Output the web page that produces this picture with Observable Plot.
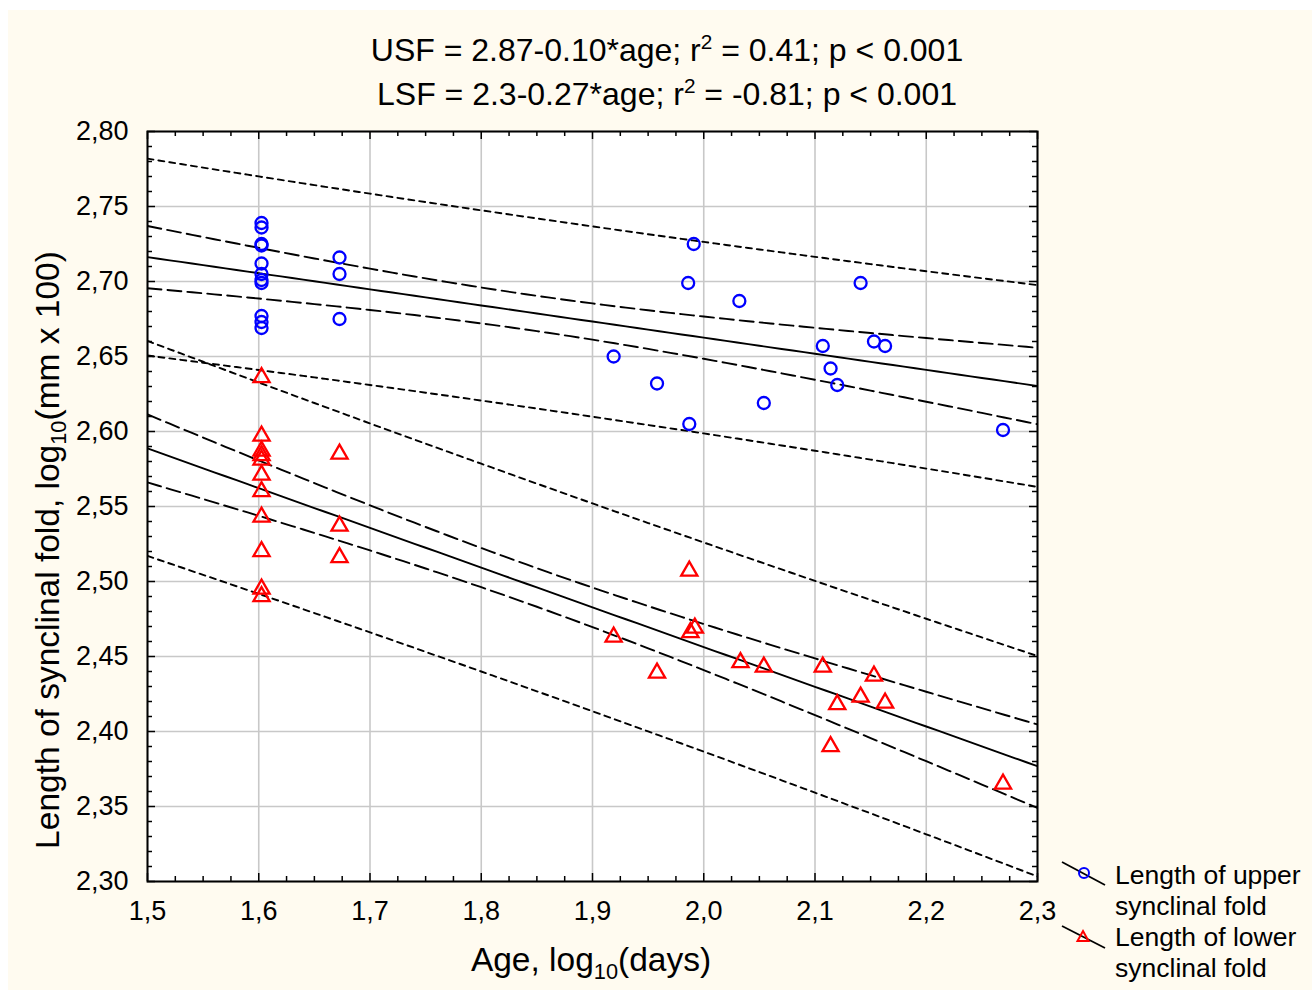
<!DOCTYPE html>
<html><head><meta charset="utf-8">
<script src="https://cdn.jsdelivr.net/npm/d3@7"></script>
<script src="https://cdn.jsdelivr.net/npm/@observablehq/plot@0.6"></script>
<style>
html,body{margin:0;padding:0;background:#fff;overflow:hidden}
#wrap{position:relative;width:1312px;height:990px;background:#fff;font-family:"Liberation Sans",Arial,sans-serif;color:#000}
#cream{position:absolute;left:8px;top:10px;right:0;bottom:0;background:#fffbf0}
#chart{position:absolute;left:0;top:0}
.t{position:absolute;white-space:nowrap}
.title{left:667px;transform:translateX(-50%);font-size:32px;line-height:32px}
sup,sub{font-size:65%;line-height:0}
.leg{left:1115px;font-size:26.5px;line-height:31px}
</style></head>
<body>
<div id="wrap">
  <div id="cream"></div>
  <div id="chart"></div>
  <div class="t title" style="top:34px">USF = 2.87-0.10*age; r<sup>2</sup> = 0.41; p &lt; 0.001</div>
  <div class="t title" style="top:78px">LSF = 2.3-0.27*age; r<sup>2</sup> = -0.81; p &lt; 0.001</div>
  <div class="t" style="left:591px;top:943px;transform:translateX(-50%);font-size:33.5px;line-height:33px">Age, log<sub>10</sub>(days)</div>
  <div class="t" style="left:47px;top:550px;transform:translate(-50%,-50%) rotate(-90deg);font-size:33.5px;line-height:33px">Length of synclinal fold, log<sub>10</sub>(mm x 100)</div>
  <svg class="t" style="left:1050px;top:850px" width="70" height="110">
    <line x1="12" y1="12" x2="55" y2="35" stroke="#000" stroke-width="1.8"/>
    <circle cx="34" cy="23" r="5" fill="none" stroke="#0000ff" stroke-width="2"/>
    <line x1="12" y1="76" x2="55" y2="98" stroke="#000" stroke-width="1.8"/>
    <path d="M33,81 L38.5,91 L27.5,91 Z" fill="none" stroke="#ff0000" stroke-width="2"/>
  </svg>
  <div class="t leg" style="top:860px">Length of upper<br>synclinal fold</div>
  <div class="t leg" style="top:922px">Length of lower<br>synclinal fold</div>
</div>
<script>
// ---- data ----
const ageUSF = [1.6025,1.6025,1.6025,1.6025,1.6025,1.6025,1.6025,1.6025,1.6025,1.6025,1.6025,
  1.6726,1.6726,1.6726,1.919,1.958,1.987,1.986,1.991,2.032,2.054,2.107,2.114,2.120,2.141,2.153,2.163,2.269];
const lenUSF = [2.739,2.736,2.725,2.724,2.712,2.705,2.701,2.699,2.677,2.673,2.669,
  2.716,2.705,2.675,2.650,2.632,2.605,2.699,2.725,2.687,2.619,2.657,2.642,2.631,2.699,2.660,2.657,2.601];
const ageLSF = [1.6025,1.6025,1.6025,1.6025,1.6025,1.6025,1.6025,1.6025,1.6025,1.6025,1.6025,
  1.6726,1.6726,1.6726,1.919,1.958,1.987,1.988,1.992,2.033,2.054,2.107,2.114,2.120,2.141,2.153,2.163,2.269];
const lenLSF = [2.636,2.597,2.587,2.584,2.581,2.571,2.560,2.543,2.520,2.495,2.490,
  2.585,2.537,2.516,2.463,2.439,2.507,2.466,2.469,2.446,2.443,2.443,2.390,2.418,2.423,2.437,2.419,2.365];
const xTicks = [1.5,1.6,1.7,1.8,1.9,2.0,2.1,2.2,2.3];
const yTicks = [2.30,2.35,2.40,2.45,2.50,2.55,2.60,2.65,2.70,2.75,2.80];
const tCrit = 2.0555; // t(0.975, df = 26)

// ---- regression with 95% confidence and prediction bands ----
function fit(xs, ys) {
  const n = xs.length, mx = d3.mean(xs), my = d3.mean(ys);
  let sxx = 0, sxy = 0;
  xs.forEach((x, i) => { sxx += (x - mx) ** 2; sxy += (x - mx) * (ys[i] - my); });
  const b = sxy / sxx, a = my - b * mx;
  let sse = 0;
  xs.forEach((x, i) => { sse += (ys[i] - a - b * x) ** 2; });
  const s = Math.sqrt(sse / (n - 2));
  const grid = d3.range(0, 81).map(i => 1.5 + i * 0.01);
  return grid.map(x => {
    const yh = a + b * x, d = (x - mx) ** 2 / sxx;
    const c = tCrit * s * Math.sqrt(1 / n + d), p = tCrit * s * Math.sqrt(1 + 1 / n + d);
    return {x, yh, cl: yh - c, cu: yh + c, pl: yh - p, pu: yh + p};
  });
}
const fU = fit(ageUSF, lenUSF), fL = fit(ageLSF, lenLSF);
const ptsU = ageUSF.map((x, i) => ({x, y: lenUSF[i]}));
const ptsL = ageLSF.map((x, i) => ({x, y: lenLSF[i]}));

const pxX = 0.8 / 890, pxY = 0.5 / 750;
const xMinor = d3.range(0, 33).map(i => +(1.5 + i * 0.025).toFixed(3)).filter(v => !xTicks.some(t => Math.abs(t - v) < 1e-6));
const yMinor = d3.range(0, 51).map(i => +(2.30 + i * 0.01).toFixed(3)).filter(v => !yTicks.some(t => Math.abs(t - v) < 1e-6));

function bandLines(f) {
  const o = {stroke: "#000", strokeWidth: 1.9, clip: true};
  return [
    Plot.line(f, {x: "x", y: "pu", ...o, strokeDasharray: "6,5"}),
    Plot.line(f, {x: "x", y: "pl", ...o, strokeDasharray: "6,5"}),
    Plot.line(f, {x: "x", y: "cu", ...o, strokeDasharray: "14,6"}),
    Plot.line(f, {x: "x", y: "cl", ...o, strokeDasharray: "14,6"}),
    Plot.line(f, {x: "x", y: "yh", ...o})
  ];
}
function tickRules(vals, len) {
  return [
    Plot.ruleX(vals, {x: d => d, y1: 2.30, y2: 2.30 + len * pxY, stroke: "#000", strokeWidth: 1.5}),
    Plot.ruleX(vals, {x: d => d, y1: 2.80, y2: 2.80 - len * pxY, stroke: "#000", strokeWidth: 1.5})
  ];
}
function tickRulesY(vals, len) {
  return [
    Plot.ruleY(vals, {y: d => d, x1: 1.5, x2: 1.5 + len * pxX, stroke: "#000", strokeWidth: 1.5}),
    Plot.ruleY(vals, {y: d => d, x1: 2.3, x2: 2.3 - len * pxX, stroke: "#000", strokeWidth: 1.5})
  ];
}

const chart = Plot.plot({
  width: 1312, height: 990,
  marginLeft: 147, marginRight: 275, marginTop: 131, marginBottom: 109,
  style: {background: "transparent", fontFamily: "Liberation Sans, Arial, sans-serif", fontSize: "27px", color: "#000"},
  x: {domain: [1.5, 2.3]},
  y: {domain: [2.30, 2.80]},
  marks: [
    Plot.frame({fill: "white", stroke: null}),
    Plot.gridX(xTicks, {stroke: "#c8c8c8", strokeOpacity: 1, strokeWidth: 1.6}),
    Plot.gridY(yTicks, {stroke: "#c8c8c8", strokeOpacity: 1, strokeWidth: 1.6}),
    ...bandLines(fU),
    ...bandLines(fL),
    Plot.dot(ptsU, {x: "x", y: "y", r: 6, stroke: "#0000ff", strokeWidth: 2.3, fill: "none"}),
    Plot.dot(ptsL, {x: "x", y: "y", r: 6, symbol: "triangle", stroke: "#ff0000", strokeWidth: 2.3, fill: "none"}),
    ...tickRules(xMinor, 5), ...tickRules(xTicks, 8),
    ...tickRulesY(yMinor, 5), ...tickRulesY(yTicks, 8),
    Plot.frame({stroke: "#000", strokeWidth: 2}),
    Plot.axisX(xTicks, {tickSize: 0, tickPadding: 19, tickFormat: d => d.toFixed(1).replace(".", ","), label: null}),
    Plot.axisY(yTicks, {tickSize: 0, tickPadding: 19, tickFormat: d => d.toFixed(2).replace(".", ","), label: null})
  ]
});
document.getElementById("chart").appendChild(chart);
</script>
</body></html>
